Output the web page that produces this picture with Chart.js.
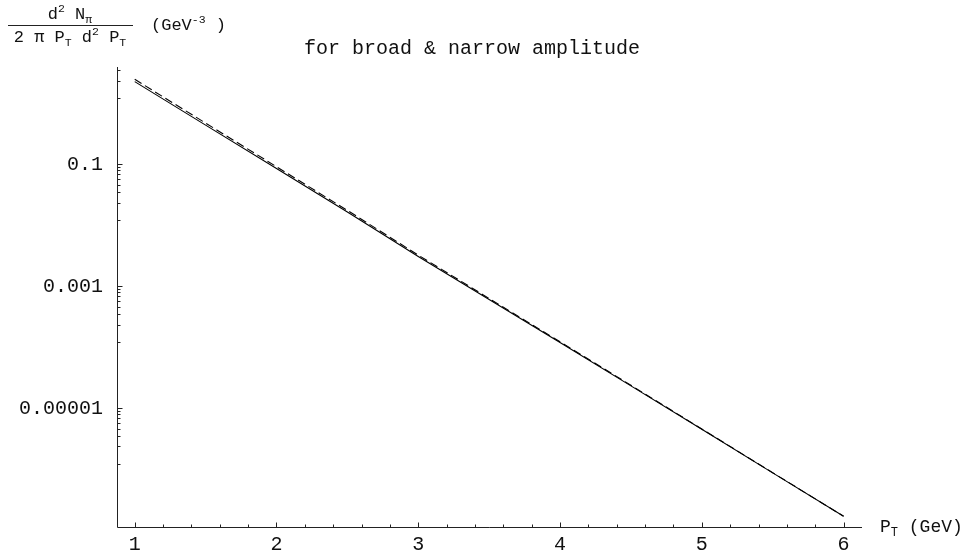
<!DOCTYPE html>
<html>
<head>
<meta charset="utf-8">
<script src="https://cdn.jsdelivr.net/npm/chart.js@4/dist/chart.umd.min.js"></script>
<style>
  html, body { margin: 0; padding: 0; background: #fff; }
  #wrap { width: 971px; height: 555px; }
</style>
</head>
<body>
<div id="wrap"><canvas id="spectrum" width="971" height="555"></canvas></div>
<script>
// pion transverse momentum spectrum
const pT = [1, 1.5, 2, 2.5, 3, 3.5, 4, 4.5, 5, 5.5, 6];
const broadYield = [2.21, 0.428, 0.083, 0.0161, 0.0030, 5.9e-4, 1.17e-4, 2.27e-5, 4.41e-6, 8.5e-7, 1.65e-7];
const narrowYield = [2.41, 0.462, 0.089, 0.0171, 0.00316, 6.15e-4, 1.2e-4, 2.32e-5, 4.45e-6, 8.55e-7, 1.65e-7];

const xTicks = [1, 2, 3, 4, 5, 6];
const xTickLabels = ["1", "2", "3", "4", "5", "6"];
const yTicks = [10, 0.1, 0.001, 0.00001, 0.0000001];
const yTickLabels = ["10", "0.1", "0.001", "0.00001", "1e-7"];

const FONT = '"Liberation Mono", "Courier New", monospace';
const font = (size) => `${size}px ${FONT}`;

function drawRich(ctx, parts, x, y, align) {
  let w = 0;
  parts.forEach((p) => {
    ctx.font = font(p[1]);
    w += ctx.measureText(p[0]).width;
  });
  let cx = align === "center" ? x - w / 2 : x;
  ctx.textAlign = "left";
  ctx.textBaseline = "alphabetic";
  parts.forEach((p) => {
    ctx.font = font(p[1]);
    ctx.fillText(p[0], cx, y + p[2]);
    cx += ctx.measureText(p[0]).width;
  });
}

const mathFrame = {
  id: "mathFrame",
  afterDraw(chart) {
    const ctx = chart.ctx;
    const xs = chart.scales.x;
    const ys = chart.scales.y;
    const area = chart.chartArea;
    ctx.save();
    ctx.strokeStyle = "#222";
    ctx.fillStyle = "#111";
    ctx.lineWidth = 1;

    // axis lines
    const ax = Math.round(area.left) + 0.5;
    const ay = Math.round(area.bottom) + 0.5;
    ctx.beginPath();
    ctx.moveTo(ax, area.top);
    ctx.lineTo(ax, ay);
    ctx.lineTo(area.right, ay);
    ctx.stroke();

    // x ticks, pointing up into the plot
    ctx.beginPath();
    for (let i = 0; i < xTicks.length; i++) {
      const px = Math.round(xs.getPixelForValue(xTicks[i])) + 0.5;
      ctx.moveTo(px, ay);
      ctx.lineTo(px, ay - 5);
      for (let k = 1; k < 5; k++) {
        const v = xTicks[i] + k * 0.2;
        if (v > xs.max) break;
        const mx = Math.round(xs.getPixelForValue(v)) + 0.5;
        ctx.moveTo(mx, ay);
        ctx.lineTo(mx, ay - 3);
      }
    }
    ctx.stroke();

    // y ticks, linear minor subdivision between the major ones
    ctx.beginPath();
    for (let i = 0; i < yTicks.length; i++) {
      const major = yTicks[i];
      if (major <= ys.max && major >= ys.min) {
        const py = Math.round(ys.getPixelForValue(major)) + 0.5;
        ctx.moveTo(ax, py);
        ctx.lineTo(ax + 5, py);
      }
      const next = yTicks[i + 1];
      if (next === undefined) continue;
      const step = (major - next) / 9;
      for (let k = 1; k < 9; k++) {
        const v = major - k * step;
        if (v > ys.max || v < ys.min) continue;
        const py = Math.round(ys.getPixelForValue(v)) + 0.5;
        ctx.moveTo(ax, py);
        ctx.lineTo(ax + 3, py);
      }
    }
    ctx.stroke();

    // tick labels
    ctx.font = font(20);
    ctx.textAlign = "center";
    ctx.textBaseline = "middle";
    xTicks.forEach((v, i) => {
      ctx.fillText(xTickLabels[i], xs.getPixelForValue(v), 545);
    });
    ctx.textAlign = "right";
    yTicks.forEach((v, i) => {
      if (v > ys.max || v < ys.min) return;
      ctx.fillText(yTickLabels[i], 103, ys.getPixelForValue(v) + 1);
    });

    // title
    ctx.font = font(20);
    ctx.textAlign = "left";
    ctx.textBaseline = "alphabetic";
    ctx.fillText("for broad & narrow amplitude", 304, 54);

    // y axis label as a fraction
    drawRich(ctx, [["d", 17, 0], ["2", 11.5, -7], [" N", 17, 0], ["\u03c0", 11.5, 4]], 70, 19, "center");
    drawRich(ctx, [["2 \u03c0 P", 17, 0], ["T", 11.5, 4], [" d", 17, 0], ["2", 11.5, -7], [" P", 17, 0], ["T", 11.5, 4]], 70, 42, "center");
    ctx.beginPath();
    ctx.moveTo(8, 25.5);
    ctx.lineTo(133, 25.5);
    ctx.stroke();
    drawRich(ctx, [["(GeV", 17, 0], ["-3", 11.5, -7], [" )", 17, 0]], 151, 30, "left");

    // x axis label
    drawRich(ctx, [["P", 18, 0], ["T", 12, 4], [" (GeV)", 18, 0]], 880, 532, "left");

    ctx.restore();
  },
};

new Chart(document.getElementById("spectrum"), {
  type: "line",
  data: {
    labels: pT,
    datasets: [
      {
        label: "broad",
        data: pT.map((x, i) => ({ x: x, y: broadYield[i] })),
        borderColor: "#000",
        borderWidth: 1.1,
        pointRadius: 0,
        tension: 0,
      },
      {
        label: "narrow",
        data: pT.map((x, i) => ({ x: x, y: narrowYield[i] })),
        borderColor: "#000",
        borderWidth: 1.1,
        borderDash: [8, 4],
        pointRadius: 0,
        tension: 0,
      },
    ],
  },
  options: {
    responsive: false,
    animation: false,
    layout: { padding: { left: 117, top: 67, right: 109, bottom: 28 } },
    plugins: {
      legend: { display: false },
      tooltip: { enabled: false },
    },
    scales: {
      x: { type: "linear", min: 0.875, max: 6.13, display: false },
      y: { type: "logarithmic", min: 1.1e-7, max: 3.84, display: false },
    },
  },
  plugins: [mathFrame],
});
</script>
</body>
</html>
